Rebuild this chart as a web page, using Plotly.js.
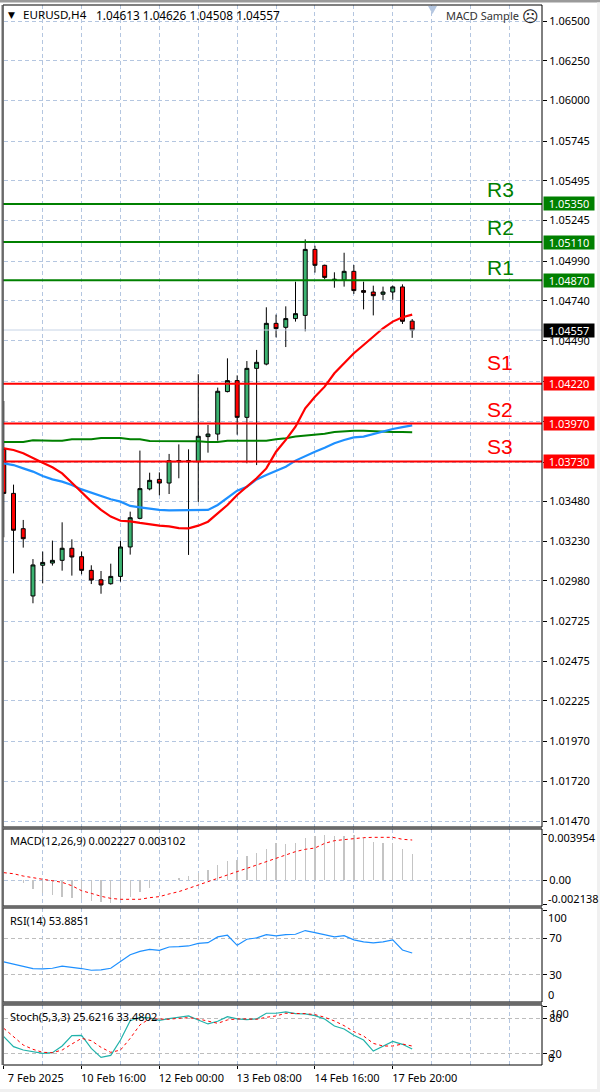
<!DOCTYPE html>
<html>
<head>
<meta charset="utf-8">
<script src="https://cdn.plot.ly/plotly-3.0.1.min.js"></script>
<style>html,body{margin:0;padding:0;background:#fff}#chart{width:600px;height:1092px}</style>
</head>
<body>
<div id="chart"></div>
<script>
const open_ = [1.03807,1.03530,1.03308,1.02885,1.03078,1.03092,1.03109,1.03185,1.03132,1.03046,1.02987,1.02962,1.03008,1.03193,1.03373,1.03558,1.03618,1.03595,1.03729,1.03729,1.03729,1.03887,1.03903,1.04170,1.04239,1.04008,1.04316,1.04343,1.04599,1.04574,1.04629,1.04649,1.05064,1.04964,1.04872,1.04872,1.04926,1.04805,1.04796,1.04782,1.04796,1.04828,1.04613];
const high_ = [1.04111,1.03585,1.03363,1.03117,1.03164,1.03233,1.03348,1.03241,1.03164,1.03078,1.03042,1.03088,1.03231,1.03415,1.03799,1.03660,1.03662,1.03778,1.03838,1.03807,1.04279,1.03960,1.04195,1.04379,1.04272,1.04362,1.04432,1.04700,1.04654,1.04706,1.04861,1.05127,1.05087,1.04968,1.04920,1.05043,1.04966,1.04861,1.04836,1.04830,1.04836,1.04844,1.04626];
const low_ = [1.03254,1.03027,1.03189,1.02839,1.02964,1.03076,1.03044,1.03013,1.03021,1.02960,1.02899,1.02956,1.02975,1.03145,1.03367,1.03549,1.03518,1.03526,1.03625,1.03143,1.03476,1.03786,1.03861,1.04165,1.03899,1.03719,1.03708,1.04335,1.04511,1.04450,1.04610,1.04549,1.04918,1.04876,1.04823,1.04830,1.04784,1.04687,1.04649,1.04746,1.04748,1.04595,1.04508];
const close_ = [1.03530,1.03298,1.03245,1.03080,1.03096,1.03109,1.03185,1.03130,1.03046,1.02985,1.02954,1.03008,1.03193,1.03377,1.03560,1.03612,1.03595,1.03736,1.03736,1.03736,1.03889,1.03903,1.04172,1.04239,1.04008,1.04316,1.04354,1.04599,1.04566,1.04629,1.04660,1.05064,1.04964,1.04888,1.04876,1.04926,1.04805,1.04794,1.04773,1.04796,1.04828,1.04612,1.04557];

const maRed = [1.03813,1.03803,1.03782,1.03750,1.03723,1.03694,1.03656,1.03597,1.03537,1.03478,1.03426,1.03384,1.03358,1.03354,1.03344,1.03335,1.03327,1.03323,1.03312,1.03310,1.03327,1.03352,1.03405,1.03457,1.03520,1.03572,1.03625,1.03687,1.03792,1.03866,1.03949,1.04065,1.04138,1.04201,1.04285,1.04348,1.04411,1.04463,1.04515,1.04568,1.04610,1.04637,1.04654];
const maBlue = [1.03719,1.03708,1.03687,1.03667,1.03639,1.03618,1.03604,1.03583,1.03555,1.03534,1.03514,1.03493,1.03478,1.03451,1.03442,1.03434,1.03426,1.03423,1.03423,1.03423,1.03423,1.03426,1.03457,1.03503,1.03547,1.03572,1.03618,1.03646,1.03673,1.03698,1.03736,1.03765,1.03792,1.03817,1.03845,1.03866,1.03882,1.03887,1.03903,1.03922,1.03935,1.03947,1.03958];
const maGreen = [1.03853,1.03853,1.03853,1.03864,1.03861,1.03861,1.03861,1.03870,1.03870,1.03870,1.03878,1.03878,1.03878,1.03870,1.03870,1.03859,1.03859,1.03857,1.03857,1.03857,1.03857,1.03853,1.03853,1.03861,1.03861,1.03861,1.03861,1.03861,1.03870,1.03876,1.03887,1.03893,1.03899,1.03905,1.03916,1.03922,1.03924,1.03924,1.03920,1.03916,1.03916,1.03916,1.03914];

const macdHist = [0.00002,-0.00005,-0.00029,-0.00077,-0.00109,-0.00129,-0.00143,-0.00152,-0.00166,-0.00181,-0.00192,-0.00195,-0.00172,-0.00143,-0.00100,-0.00066,-0.00006,0.00003,0.00014,0.00034,0.00057,0.00086,0.00126,0.00161,0.00172,0.00206,0.00229,0.00264,0.00315,0.00307,0.00315,0.00358,0.00378,0.00390,0.00378,0.00378,0.00384,0.00358,0.00330,0.00318,0.00318,0.00264,0.002227];
const macdSignal = [0.00063,0.00054,0.00034,0.00023,0.00006,-0.00006,-0.00020,-0.00049,-0.00092,-0.00115,-0.00140,-0.00158,-0.00166,-0.00166,-0.00166,-0.00152,-0.00143,-0.00120,-0.00100,-0.00072,-0.00043,-0.00009,0.00014,0.00049,0.00072,0.00100,0.00129,0.00158,0.00186,0.00215,0.00244,0.00264,0.00275,0.00315,0.00338,0.00347,0.00358,0.00364,0.00367,0.00367,0.00367,0.00350,0.00344];
const rsiValues = [44.3,41.7,39.9,37,36.6,37.3,39.5,38.4,37,35.1,35.5,37.3,44.7,52,55.7,57.9,56.8,60.5,60.8,61.6,64.5,65.2,71.5,73.3,62.3,68.9,70.4,74,72.6,74,74.4,78.4,76.2,74,71.5,72.9,68.2,66,64.9,66,68.2,57.2,53.9];
const stochMain = [48.9,31.9,26.2,23.4,20.6,21.7,33,50.6,51.1,29,13.8,17.2,43.2,76,81.7,80.6,76.6,79.4,81.7,84,77.2,70.4,74.9,82.8,78.9,77.7,78.9,88.5,88.5,90.8,87.9,87.4,84.5,78.9,67,61.9,51.1,43.2,24.5,33,40.9,35.9,27.9];
const stochSignal = [63,48.9,34.7,27.4,22.3,21.7,26.2,36.4,46,42.1,30.8,22.3,26.2,46,68.7,79.4,78.9,78.3,80,81.1,78.9,74.9,71.5,77.2,78.9,78.9,78.3,81.7,84,88.5,88.5,87.9,86.2,81.7,75.5,67.5,57.4,50,37.5,33,33,36.4,33];

const barIndex = open_.map((_, i) => i);

const priceTicks = [1.065,1.0625,1.06,1.05745,1.05495,1.05245,1.0499,1.0474,1.0449,1.04232,1.03981,1.03727,1.0348,1.0323,1.0298,1.02725,1.02475,1.02225,1.0197,1.0172,1.0147];
const priceLabels = ['1.06500','1.06250','1.06000','1.05745','1.05495','1.05245','1.04990','1.04740','1.04490','','','','1.03480','1.03230','1.02980','1.02725','1.02475','1.02225','1.01970','1.01720','1.01470'];
const timeTicks = [0,8,16,24,32,40];
const timeLabels = ['7 Feb 2025','10 Feb 16:00','12 Feb 00:00','13 Feb 08:00','14 Feb 16:00','17 Feb 20:00'];
const gridBars = [4,8,12,16,20,24,28,32,36,40,44,48,52];

const resistanceLevels = [1.0535,1.0511,1.0487];
const resistanceNames = ['R3','R2','R1'];
const resistanceLabelY = [1.05441,1.05202,1.0495];
const supportLevels = [1.0422,1.0397,1.0373];
const supportNames = ['S1','S2','S3'];
const supportLabelY = [1.04353,1.04058,1.03825];
const lastPrice = 1.04557;

const GREEN = '#008000', RED = '#ff0000', GRID = '#b4c6e0', FONT = 'Noto Sans, sans-serif', TICKFS = 11;
const X = x => x / 600, Y = y => 1 - y / 1092;
const yDom = (t, b) => [Y(b), Y(t)];

const traces = [
  {type:'candlestick', x:barIndex, open:open_, high:high_, low:low_, close:close_, xaxis:'x', yaxis:'y',
   increasing:{line:{color:'#000',width:1}, fillcolor:'#3cb371'},
   decreasing:{line:{color:'#000',width:1}, fillcolor:'#ff0000'},
   whiskerwidth:0, hoverinfo:'skip', showlegend:false},
  {type:'scatter', mode:'lines', x:barIndex, y:maGreen, line:{color:GREEN,width:2}, xaxis:'x', yaxis:'y', hoverinfo:'skip'},
  {type:'scatter', mode:'lines', x:barIndex, y:maBlue, line:{color:'#1e90ff',width:2.2}, xaxis:'x', yaxis:'y', hoverinfo:'skip'},
  {type:'scatter', mode:'lines', x:barIndex, y:maRed, line:{color:RED,width:2.2}, xaxis:'x', yaxis:'y', hoverinfo:'skip'},
  {type:'bar', x:barIndex, y:macdHist, width:0.14, marker:{color:'#c4c4c4',line:{width:0}}, xaxis:'x', yaxis:'y2', hoverinfo:'skip'},
  {type:'scatter', mode:'lines', x:barIndex, y:macdSignal, line:{color:RED,width:1,dash:'3px,3px'}, xaxis:'x', yaxis:'y2', hoverinfo:'skip'},
  {type:'scatter', mode:'lines', x:barIndex, y:rsiValues, line:{color:'#1e90ff',width:1.2}, xaxis:'x', yaxis:'y3', hoverinfo:'skip'},
  {type:'scatter', mode:'lines', x:barIndex, y:stochMain, line:{color:'#20b2aa',width:1.2}, xaxis:'x', yaxis:'y4', hoverinfo:'skip'},
  {type:'scatter', mode:'lines', x:barIndex, y:stochSignal, line:{color:RED,width:1,dash:'3px,3px'}, xaxis:'x', yaxis:'y4', hoverinfo:'skip'}
];

const baseY = {
  side:'right', anchor:'x', ticks:'outside', ticklen:4, tickcolor:'#000', tickwidth:1,
  showline:false, zeroline:false, fixedrange:true,
  tickfont:{family:FONT,size:TICKFS,color:'#000'}, griddash:'4px,3px', gridwidth:1
};

const txt = (text, x, y, opts={}) => Object.assign({
  text, xref:'paper', yref:'paper', x:X(x), y:Y(y), xanchor:'left', yanchor:'middle',
  showarrow:false, font:{family:FONT,size:TICKFS,color:'#000'}, borderpad:0
}, opts);

const badge = (price, color, textColor='#fff') => ({
  text:price.toFixed(5), xref:'paper', yref:'y', x:X(569), y:price, xanchor:'center', yanchor:'middle',
  showarrow:false, bgcolor:color, width:50, height:13, borderpad:0, font:{family:FONT,size:TICKFS,color:textColor}
});

const levelLabel = (name, y, color) => ({
  text:name, xref:'x', yref:'y', x:51.05, y, xanchor:'center', yanchor:'middle', showarrow:false,
  font:{family:'Liberation Sans, Arial, sans-serif',size:21,color}
});

const annotations = [
  txt('\u25BC', 7, 15, {font:{family:'DejaVu Sans',size:9,color:'#000'}}),
  txt('EURUSD,H4', 22, 15, {font:{family:FONT,size:11.6,color:'#000'}}),
  txt('1.04613 1.04626 1.04508 1.04557', 95, 15, {font:{family:FONT,size:11.8,color:'#000'}}),
  txt('MACD Sample', 445, 16, {font:{family:FONT,size:11,color:'#333'}}),
  txt('\u2639', 521, 17, {font:{family:'DejaVu Sans',size:16,color:'#222'}}),
  txt('MACD(12,26,9) 0.002227 0.003102', 9, 840),
  txt('RSI(14) 53.8851', 9, 920),
  txt('Stoch(5,3,3) 25.6216 33.4802', 9, 1016),
  txt('0.003954', 547, 837.5),
  txt('-0.002138', 547, 898.5),
  txt('100', 547, 917.5),
  txt('0', 547, 994),
  txt('100', 549, 1013),
  txt('0', 547, 1057),
  ...resistanceLevels.map(p => badge(p, GREEN)),
  ...supportLevels.map(p => badge(p, RED)),
  badge(lastPrice, '#000'),
  ...resistanceNames.map((n, i) => levelLabel(n, resistanceLabelY[i], GREEN)),
  ...supportNames.map((n, i) => levelLabel(n, supportLabelY[i], RED))
];

const hline = (price, color, width) => ({type:'line', xref:'paper', yref:'y', x0:X(3), x1:X(542), y0:price, y1:price, line:{color,width}});
const band = (x0, y0, x1, y1, color, layer='above') => ({type:'rect', xref:'paper', yref:'paper', x0:X(x0), x1:X(x1), y0:Y(y0), y1:Y(y1), fillcolor:color, line:{width:0}, layer});
const frame = (t, b) => ({type:'rect', xref:'paper', yref:'paper', x0:X(3), x1:X(542), y0:Y(t), y1:Y(b), line:{color:'#000',width:1}, fillcolor:'rgba(0,0,0,0)', layer:'above'});

const shapes = [
  hline(lastPrice, '#c8d4e6', 1),
  ...resistanceLevels.map(p => hline(p, GREEN, 2)),
  ...supportLevels.map(p => hline(p, RED, 2)),
  frame(5,827), frame(829,906), frame(908,1002), frame(1005,1065),
  band(1.5,5,3.5,1065,'#6a6a6a'),
  band(3,827,542,829,'#6a6a6a'), band(3,906,542,908,'#6a6a6a'), band(3,1002,542,1005,'#6a6a6a'),
  band(0,0,600,2.5,'#9a9a9a'),
  band(0,1089,600,1092,'#f0f0f0'), band(597,2.5,600,1092,'#f0f0f0'),
  {type:'path', xref:'paper', yref:'paper', path:`M ${X(428)} ${Y(6)} L ${X(437)} ${Y(6)} L ${X(432.5)} ${Y(14)} Z`, fillcolor:'#b4c6e0', line:{width:0}, layer:'above'}
];

const layout = {
  width:600, height:1092, margin:{l:0,r:0,t:0,b:0,pad:0},
  paper_bgcolor:'#fff', plot_bgcolor:'#fff', showlegend:false, boxgap:0.42, bargap:0,
  xaxis:{domain:[X(3.5),X(542)], range:[-0.03,55.35], type:'linear', anchor:'y4', fixedrange:true,
    rangeslider:{visible:false}, tickmode:'array', tickvals:timeTicks, ticktext:timeLabels,
    ticks:'outside', ticklen:3, tickcolor:'#000', showgrid:false, zeroline:false, showline:false,
    tickfont:{family:FONT,size:TICKFS,color:'#000'}, ticklabelshift:32,
    minor:{tickmode:'array', tickvals:gridBars, showgrid:true, gridcolor:GRID, griddash:'4px,3px', gridwidth:1, ticks:''}},
  yaxis:Object.assign({}, baseY, {domain:yDom(5,827), range:[1.014324,1.066006], tickmode:'array', tickvals:priceTicks, ticktext:priceLabels, showgrid:true, gridcolor:GRID}),
  yaxis2:Object.assign({}, baseY, {domain:yDom(829,906), range:[-0.002236,0.004386], tickmode:'array', tickvals:[0], ticktext:['0.00'], showgrid:true, gridcolor:GRID,
    minor:{tickmode:'array', tickvals:[0.003954,-0.002138], ticks:'outside', ticklen:4, tickcolor:'#000', showgrid:false}}),
  yaxis3:Object.assign({}, baseY, {domain:yDom(908,1002), range:[0.5,103], tickmode:'array', tickvals:[70,30], ticktext:['70','30'], showgrid:true, gridcolor:'#bdbdbd',
    minor:{tickmode:'array', tickvals:[100,0], ticks:'outside', ticklen:4, tickcolor:'#000', showgrid:false}}),
  yaxis4:Object.assign({}, baseY, {domain:yDom(1005,1065), range:[0.85,102.5], tickmode:'array', tickvals:[80,20], ticktext:['80','20'], showgrid:true, gridcolor:'#bdbdbd',
    minor:{tickmode:'array', tickvals:[100,0], ticks:'outside', ticklen:4, tickcolor:'#000', showgrid:false}}),
  annotations, shapes
};

Plotly.newPlot('chart', traces, layout, {displayModeBar:false, staticPlot:true});
</script>
</body>
</html>
